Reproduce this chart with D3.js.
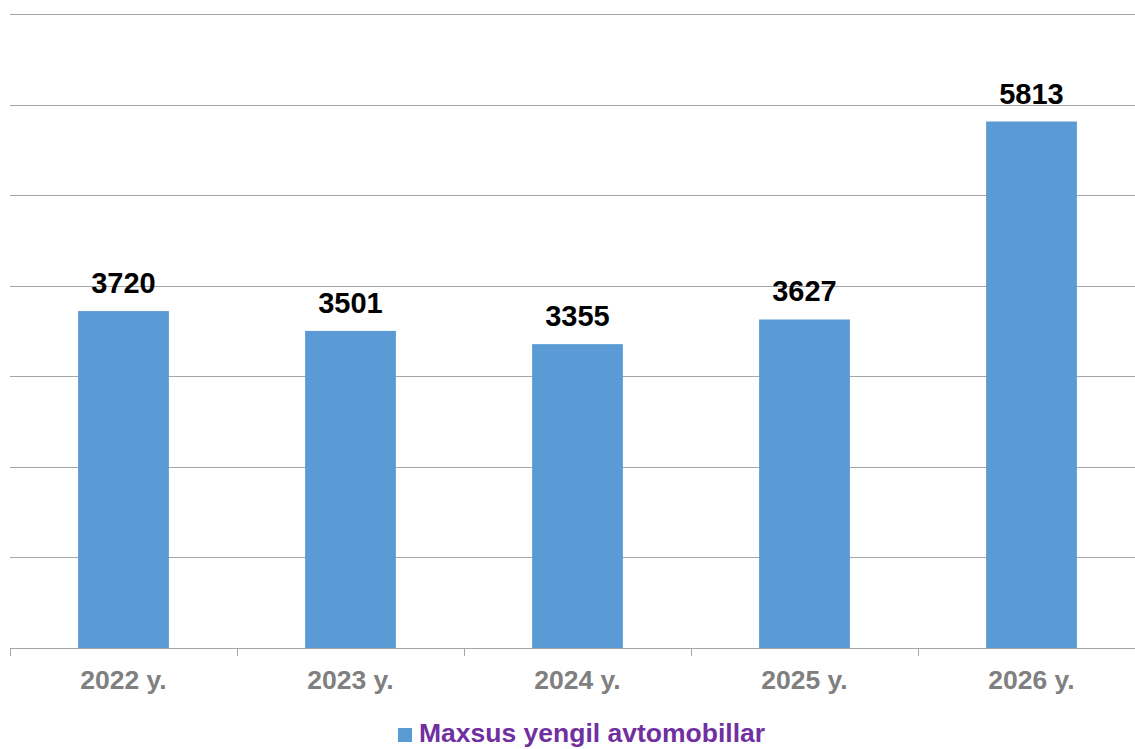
<!DOCTYPE html>
<html>
<head>
<meta charset="utf-8">
<script src="https://cdn.jsdelivr.net/npm/d3@7"></script>
<style>
  body { margin: 0; background: #fff; }
  svg { display: block; font-family: "Liberation Sans", Arial, sans-serif; }
</style>
</head>
<body>
<div id="chart"></div>
<script>
// Data
const years = ["2022 y.", "2023 y.", "2024 y.", "2025 y.", "2026 y."];
const values = [3720, 3501, 3355, 3627, 5813];
const seriesName = "Maxsus yengil avtomobillar";
const yTicks = [0, 1000, 2000, 3000, 4000, 5000, 6000, 7000];

const width = 1135, height = 749;
const plot = {left: 10, right: 1145, top: 14, bottom: 648};

const svg = d3.select("#chart")
    .append("svg")
    .attr("width", width)
    .attr("height", height);

// Scales
const xScale = d3.scaleBand()
    .domain(years)
    .range([plot.left, plot.right])
    .paddingInner(0.6)
    .paddingOuter(0.3);

const yScale = d3.scaleLinear()
    .domain([0, 7000])
    .range([plot.bottom, plot.top]);

// Gridlines
svg.append("g")
    .selectAll("line")
    .data(yTicks.slice(1))
    .enter()
    .append("line")
    .attr("x1", plot.left)
    .attr("x2", width)
    .attr("y1", d => Math.round(yScale(d)) + 0.5)
    .attr("y2", d => Math.round(yScale(d)) + 0.5)
    .attr("stroke", "#a6a6a6")
    .attr("stroke-width", 1);

// Bars
svg.append("g")
    .selectAll("rect")
    .data(values)
    .enter()
    .append("rect")
    .attr("x", (d, i) => xScale(years[i]))
    .attr("y", d => yScale(d))
    .attr("width", xScale.bandwidth())
    .attr("height", d => plot.bottom - yScale(d))
    .attr("fill", "#5b9bd5");

// Value labels
svg.append("g")
    .selectAll("text")
    .data(values)
    .enter()
    .append("text")
    .attr("x", (d, i) => xScale(years[i]) + xScale.bandwidth() / 2)
    .attr("y", d => yScale(d) - 18)
    .attr("text-anchor", "middle")
    .style("font-size", "29px")
    .style("font-weight", "bold")
    .style("fill", "#000")
    .text(d => d);

// X axis with category boundaries as ticks
const bandStep = xScale.step();
const boundaries = d3.range(years.length + 1).map(i => plot.left + i * bandStep);

const xAxis = svg.append("g");
xAxis.append("line")
    .attr("x1", plot.left)
    .attr("x2", width)
    .attr("y1", plot.bottom + 0.5)
    .attr("y2", plot.bottom + 0.5)
    .attr("stroke", "#a6a6a6");

xAxis.selectAll(".tick")
    .data(boundaries)
    .enter()
    .append("line")
    .attr("class", "tick")
    .attr("x1", d => Math.round(d) + 0.5)
    .attr("x2", d => Math.round(d) + 0.5)
    .attr("y1", plot.bottom)
    .attr("y2", plot.bottom + 8)
    .attr("stroke", "#a6a6a6");

xAxis.selectAll(".label")
    .data(years)
    .enter()
    .append("text")
    .attr("class", "label")
    .attr("x", d => xScale(d) + xScale.bandwidth() / 2)
    .attr("y", 689)
    .attr("text-anchor", "middle")
    .style("font-size", "26.5px")
    .style("font-weight", "bold")
    .style("fill", "#808080")
    .text(d => d);

// Legend
const legend = svg.append("g")
    .attr("transform", "translate(398,728)");

legend.append("rect")
    .attr("width", 14)
    .attr("height", 14)
    .attr("fill", "#5b9bd5");

legend.append("text")
    .attr("x", 21)
    .attr("y", 14)
    .style("font-size", "26.5px")
    .style("font-weight", "bold")
    .style("fill", "#7030a0")
    .text(seriesName);
</script>
</body>
</html>
